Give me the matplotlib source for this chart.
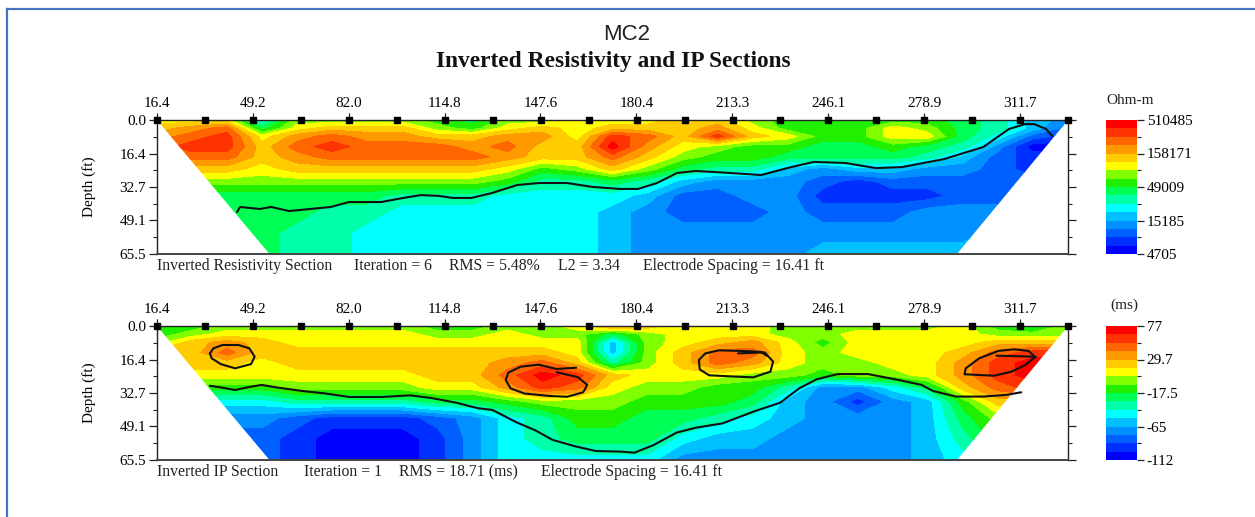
import numpy as np
import matplotlib
matplotlib.use("Agg")
import matplotlib.pyplot as plt
from matplotlib.lines import Line2D
from matplotlib.patches import Polygon

W, H = 1255, 517
plt.rcParams['font.family'] = ['Liberation Serif', 'DejaVu Serif']

tick_labels = ["16.4", "49.2", "82.0", "114.8", "147.6", "180.4", "213.3", "246.1", "278.9", "311.7"]
tick_x = [16.4, 49.2, 82.0, 114.8, 147.6, 180.4, 213.3, 246.1, 278.9, 311.7]
depth_ticks = [0.0, 16.4, 32.7, 49.1, 65.5]
spacing = 16.41
n_electrodes = 20

depths = [0, 4, 8, 13, 18, 24, 30, 37, 45, 55, 65.5]
dist = np.linspace(16.4, 328.1, 27)

# resistivity, thousands of ohm-m, one row per depth
res_k = [
    [102,102,102,24,76,76,76,76,57,42,76,76,102,102,102,136,136,76,57,57,57,57,57,42,32,18,13],
    [136,183,245,42,102,136,136,136,76,57,102,136,102,136,136,136,183,102,57,57,57,102,76,42,32,18,9.8],
    [183,245,328,102,183,245,183,183,136,136,183,183,102,328,245,136,328,136,102,57,57,102,102,42,24,9.8,7.3],
    [245,328,328,136,245,328,245,245,245,183,245,136,136,440,183,102,76,57,57,42,42,57,42,32,13,5.4,5.4],
    [183,245,245,136,183,245,245,245,245,245,183,136,136,245,136,76,57,57,42,42,42,42,32,18,9.8,7.3,7.3],
    [136,136,136,102,136,136,136,136,136,136,102,57,76,136,76,42,32,32,18,13,18,18,13,13,9.8,7.3,7.3],
    [76,76,76,76,76,76,76,76,76,76,57,32,32,42,32,18,13,13,13,9.8,7.3,9.8,9.8,9.8,9.8,9.8,9.8],
    [42,42,42,42,42,42,42,32,32,32,24,24,24,24,18,9.8,9.8,13,13,7.3,7.3,7.3,7.3,9.8,9.8,9.8,9.8],
    [42,42,42,42,42,32,32,24,24,24,24,24,24,18,13,9.8,9.8,9.8,13,9.8,9.8,9.8,13,13,13,13,13],
    [42,42,42,42,32,32,24,24,24,24,24,24,24,18,13,13,13,13,13,13,13,13,13,13,18,18,18],
    [42,42,42,42,32,32,24,24,24,24,24,24,24,18,13,13,13,13,13,18,18,18,18,18,18,18,18],
]

# chargeability, ms
ip_ms = [
    [-12,-12,0,0,0,0,0,0,-12,-12,0,0,12,35,24,12,12,12,0,0,0,0,0,12,-12,-24,0],
    [-12,0,12,12,12,12,12,12,0,0,12,0,0,-24,0,12,12,12,0,0,12,12,12,12,0,0,0],
    [0,24,35,24,12,12,12,12,12,12,12,12,12,-59,0,12,24,35,12,-12,12,12,12,12,24,24,24],
    [24,24,47,24,24,24,24,24,24,24,24,24,12,-59,0,24,47,47,12,0,12,12,12,24,47,59,59],
    [24,24,24,12,24,24,24,24,24,24,35,47,24,-35,0,24,47,35,12,0,0,12,12,35,59,71,71],
    [12,12,12,12,12,12,12,12,24,24,47,71,59,24,12,12,12,0,0,-12,0,0,12,35,59,71,71],
    [-12,-12,-12,-12,0,0,0,0,12,12,35,59,47,12,0,0,-12,-12,-35,-71,-71,-47,-24,24,47,59,59],
    [-47,-47,-47,-47,-35,-35,-35,-35,-24,-24,-12,0,0,0,-12,-12,-12,-24,-59,-71,-94,-71,-59,-12,24,24,24],
    [-71,-71,-71,-71,-83,-94,-94,-94,-83,-71,-47,-35,-12,-12,-24,-24,-35,-47,-59,-71,-71,-71,-59,-24,0,0,0],
    [-83,-83,-83,-83,-94,-106,-106,-106,-94,-71,-47,-35,-24,-24,-24,-47,-59,-59,-71,-71,-71,-71,-59,-35,-12,-12,-12],
    [-83,-83,-83,-83,-94,-106,-106,-106,-94,-71,-47,-47,-47,-47,-47,-71,-71,-71,-71,-71,-71,-71,-59,-47,-47,-47,-47],
]

# hand drawn lines on the sections
res_line_x = [43.8,44.8,51.6,55.4,61.6,68.8,75.9,82.1,93.1,100.6,106.7,112.9,117.7,123.9,131.0,139.6,147.1,156.7,165.3,174.8,181.0,187.5,194.3,200.8,212.5,223.1,233.4,241.2,251.8,262.4,271.3,285.7,299.1,307.9,313.4,316.5,320.6,322.7]
res_line_d = [45.0,42.5,43.5,42.5,44.5,43.5,42.5,40.1,40.1,38.1,36.7,37.1,38.1,38.1,35.7,31.8,30.8,30.8,32.7,33.7,33.7,30.8,25.9,24.9,25.9,26.9,23.0,20.5,21.0,23.5,23.0,19.1,13.2,4.4,2.0,2.0,4.4,7.8]

ip_line_x = [34.5,38.2,43.1,48.0,52.2,57.7,66.3,73.6,82.2,93.2,103.0,110.3,118.8,126.2,131.1,139.6,145.7,151.8,159.2,166.5,174.8,179.8,186.3,194.2,200.8,209.9,220.4,229.6,236.1,242.0,249.2,259.7,270.2,278.0,282.0,289.8,299.0,306.9,312.1]
ip_line_d = [29.2,30.0,31.3,29.8,28.8,30.1,31.8,32.9,34.7,34.7,33.9,35.2,37.5,40.2,41.0,47.2,50.9,55.7,58.7,61.1,61.4,61.9,58.2,52.1,49.7,47.6,41.9,37.5,30.5,26.1,23.5,23.5,26.4,28.8,31.8,34.5,34.5,33.7,32.4]

blob1_x = [34.5,35.7,38.8,44.3,48.0,49.8,48.6,43.1,38.2,35.1,34.5]
blob1_d = [13.4,10.9,9.3,9.3,10.9,15.0,18.6,20.7,18.6,15.8,13.4]
blob2_x = [159.8,153.1,147.0,140.8,136.6,135.7,137.4,142.1,150.6,156.7,162.2,163.6,160.4,153.1]
blob2_d = [20.4,21.0,18.9,19.9,22.8,26.4,30.5,33.0,34.2,34.6,32.4,28.8,25.0,22.6]
blob3_x = [225.0,223.0,216.5,208.6,204.0,201.8,202.1,205.3,212.5,220.4,226.3,227.2,224.3,215.2]
blob3_d = [14.5,12.6,12.2,11.9,13.4,16.6,21.2,24.1,24.6,25.1,22.3,17.4,12.9,13.4]
blob4_x = [303.6,316.7,314.7,309.5,304.2,297.7,293.1,292.7,302.9,308.8,313.4,317.1]
blob4_d = [14.5,15.0,12.2,11.4,12.2,15.8,20.7,23.6,24.3,22.3,19.1,15.0]

band_colors = ['#0000ff', '#0030ff', '#0060ff', '#0090ff', '#00c0ff', '#00ffff', '#00ffaa', '#00ff55',
               '#20f000', '#80ff00', '#ffff00', '#ffcc00', '#ff9900', '#ff6600', '#ff3300', '#ff0000']

res_ticks = ["4705", "15185", "49009", "158171", "510485"]
ip_ticks = ["-112", "-65", "-17.5", "29.7", "77"]


def px_axes(fig, x0, y0, x1, y1):
    return fig.add_axes([x0 / W, 1 - y1 / H, (x1 - x0) / W, (y1 - y0) / H])


def section(fig, y0, grid, levels, cbar_labels, captions, lines, unit, unit_x, unit_y):
    ax = px_axes(fig, 157, y0, 1068, y0 + 134)
    cs = ax.contourf(dist, depths, grid, levels=levels, colors=band_colors, extend='neither')
    x0, x1 = dist[0], dist[-1]
    outline = Polygon([(x0, 0), (x1, 0), (x1 - 38, depths[-1]), (x0 + 38.5, depths[-1])],
                      transform=ax.transData, fc='none', ec='none')
    ax.add_patch(outline)
    cs.set_clip_path(outline)

    for lx, ld in lines:
        ax.plot(lx, ld, color='#111111', lw=1.5, solid_capstyle='round', solid_joinstyle='round', clip_on=False)

    electrodes = [16.4 + i * spacing for i in range(n_electrodes)]
    ax.plot(electrodes, [0] * n_electrodes, 's', color='black', ms=4.2, clip_on=False, zorder=5)

    ax.set_xlim(x0, x1)
    ax.set_ylim(depths[-1], 0)
    ax.xaxis.tick_top()
    ax.set_xticks(tick_x)
    ax.set_xticklabels(tick_labels, fontsize=11)
    ax.set_yticks(depth_ticks)
    ax.set_yticklabels(["%.1f" % d for d in depth_ticks], fontsize=11)
    mid = [(a + b) / 2 for a, b in zip(depth_ticks[:-1], depth_ticks[1:])]
    ax.set_yticks(mid, minor=True)
    ax.tick_params(axis='x', length=5, width=0.9, pad=2, color='#222222')
    ax.tick_params(axis='y', which='major', length=6, width=0.9, pad=2, left=True, right=True, color='#222222')
    ax.tick_params(axis='y', which='minor', length=3, width=0.8, left=True, right=True, color='#222222')
    ax.set_ylabel("Depth (ft)", fontsize=11, labelpad=17)
    for s in ax.spines.values():
        s.set_linewidth(1.0)
        s.set_color('#222222')
    ax.spines['bottom'].set_color('#444444')
    ax.spines['bottom'].set_linewidth(1.4)

    for px, txt in captions:
        fig.text(px / W, 1 - (y0 + 146.5) / H, txt, fontsize=11.3, va='center', ha='left', color='#222222')

    cax = px_axes(fig, 1106, y0, 1137, y0 + 134)
    cb = fig.colorbar(cs, cax=cax)
    cb.outline.set_visible(False)
    pos = np.linspace(levels[0], levels[-1], 5)
    cb.set_ticks(pos, labels=cbar_labels)
    cb.set_ticks((pos[:-1] + pos[1:]) / 2, minor=True)
    cax.tick_params(which='major', length=5, width=0.9, pad=2, labelsize=11, color='#222222')
    cax.tick_params(which='minor', length=3, width=0.8, color='#222222')
    fig.text(unit_x / W, 1 - unit_y / H, unit, fontsize=11, va='center', ha='left', color='#222222')
    return ax


fig = plt.figure(figsize=(W / 100, H / 100), dpi=100)

# only the top and left edge of the frame are in the picture
fig.add_artist(Line2D([6.5 / W, 1], [1 - 8.5 / H, 1 - 8.5 / H], color='#4472c4', lw=1.6))
fig.add_artist(Line2D([6.5 / W, 6.5 / W], [1 - 8.5 / H, 0], color='#4472c4', lw=1.6))

fig.text(627 / W, 1 - 35 / H, "MC2", fontsize=16, ha='center', va='center', family='Liberation Sans', color='#222222')
fig.text(613 / W, 1 - 62 / H, "Inverted Resistivity and IP Sections", fontsize=16.8, ha='center', va='center',
         weight='bold', color='#111111')

res_log = np.log10(np.array(res_k) * 1000)
res_levels = np.log10(np.geomspace(4705, 510485, 17))
section(fig, 120, res_log, res_levels, res_ticks,
        [(157, "Inverted Resistivity Section"), (354, "Iteration = 6"), (449, "RMS = 5.48%"),
         (558, "L2 = 3.34"), (643, "Electrode Spacing = 16.41 ft")],
        [(res_line_x, res_line_d)], "Ohm-m", 1106, 100)

ip_levels = np.linspace(-112, 77, 17)
section(fig, 326, np.array(ip_ms), ip_levels, ip_ticks,
        [(157, "Inverted IP Section"), (304, "Iteration = 1"), (399, "RMS = 18.71 (ms)"),
         (541, "Electrode Spacing = 16.41 ft")],
        [(ip_line_x, ip_line_d), (blob1_x, blob1_d), (blob2_x, blob2_d), (blob3_x, blob3_d), (blob4_x, blob4_d)],
        "(ms)", 1110, 305)

fig.savefig("out.png", dpi=100)
